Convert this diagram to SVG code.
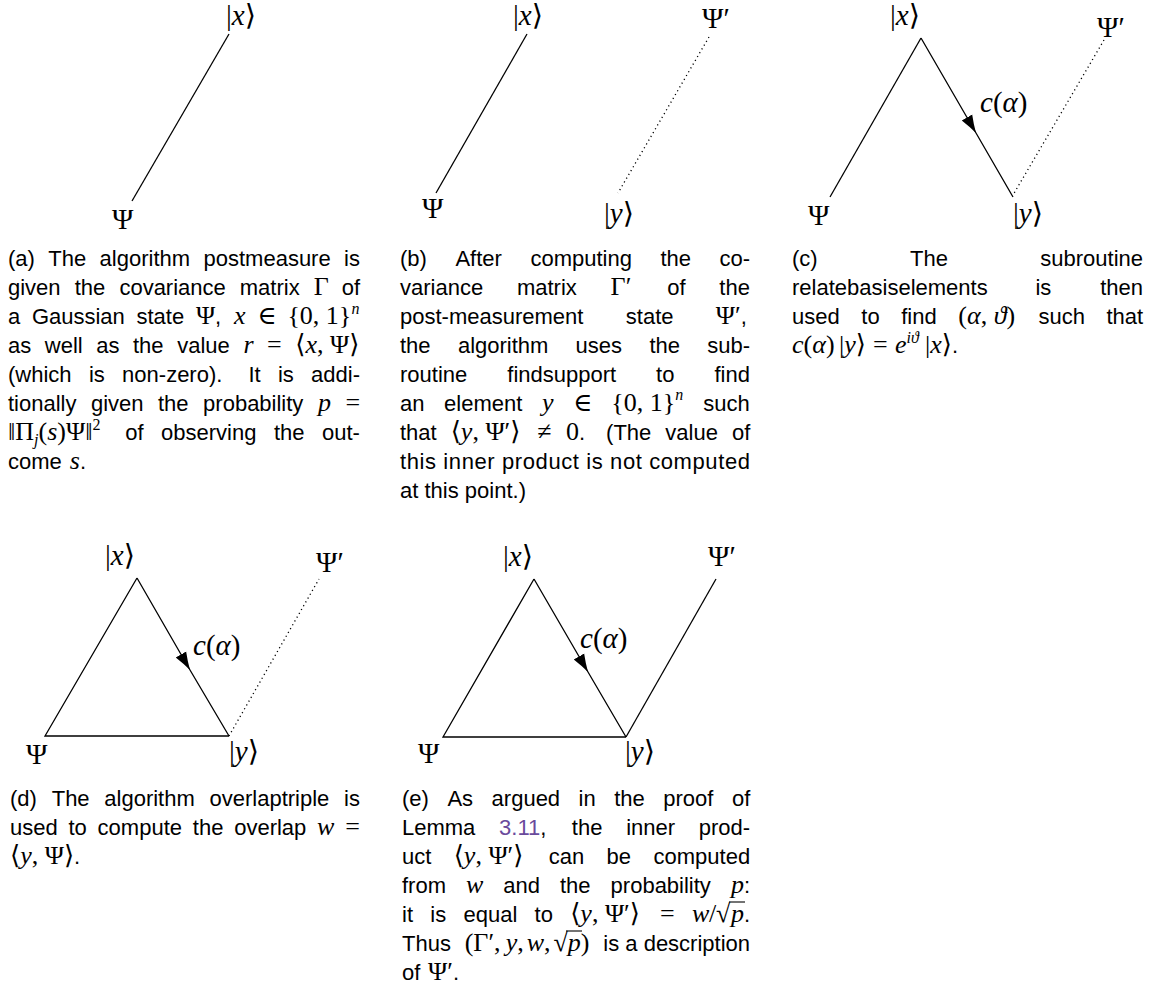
<svg xmlns="http://www.w3.org/2000/svg" width="1153" height="987" viewBox="0 0 1153 987">
<style>
.c{font-family:"Liberation Sans",Arial,sans-serif;font-size:22px;fill:#000}
.m{font-family:"Liberation Serif","DejaVu Serif",serif;font-size:26px;font-style:normal}
.mi{font-family:"Liberation Serif","DejaVu Serif",serif;font-size:26px;font-style:italic}
.sup{font-size:16px}
.lab{font-family:"Liberation Serif","DejaVu Serif",serif;font-size:29px;fill:#000}
.li{font-style:italic}
.ln{stroke:#000;stroke-width:1.3;fill:none}
.dot{stroke:#000;stroke-width:1.3;fill:none;stroke-dasharray:1.2 3.2}
.ref{fill:#6a4a9c}
.vin{stroke:#000;stroke-width:1.1}
</style>
<defs>
<marker id="arr" markerUnits="userSpaceOnUse" markerWidth="20" markerHeight="14" viewBox="0 0 20 14" refX="18" refY="7" orient="auto">
<path d="M18,7 Q9,4.6 0,1 L0,13 Q9,9.4 18,7 Z" fill="#000"/>
</marker>
</defs>
<rect width="1153" height="987" fill="#fff"/>

<g id="connectors">
<path class="ln" d="M229,34 L132,201"/>
<path class="ln" d="M527,34 L436,193"/>
<path class="dot" d="M709,37 L618,193"/>
<path class="ln" d="M921,38 L830,197"/>
<path class="ln" d="M921,38 L976,133 L1013,197" marker-mid="url(#arr)"/>
<path class="dot" d="M1104,40 L1013,195"/>
<path class="ln" d="M137,578 L45,736 L229,736"/>
<path class="ln" d="M137,578 L190,670 L229,736" marker-mid="url(#arr)"/>
<path class="dot" d="M229,736 L319,579"/>
<path class="ln" d="M534,579 L443,737 L626,737"/>
<path class="ln" d="M534,579 L588,672 L626,737" marker-mid="url(#arr)"/>
<path class="ln" d="M626,737 L716,579"/>
</g>

<g id="a-x"><text class="lab" x="226" y="25">|<tspan class="li">x</tspan>⟩</text></g>
<g id="a-psi"><text class="lab" x="112" y="229">Ψ</text></g>

<g id="b-x"><text class="lab" x="513" y="25">|<tspan class="li">x</tspan>⟩</text></g>
<g id="b-psi"><text class="lab" x="422" y="218">Ψ</text></g>
<g id="b-psip"><text class="lab" x="702" y="28">Ψ′</text></g>
<g id="b-y"><text class="lab" x="604" y="223">|<tspan class="li">y</tspan>⟩</text></g>

<g id="c-x"><text class="lab" x="890" y="25">|<tspan class="li">x</tspan>⟩</text></g>
<g id="c-psi"><text class="lab" x="808" y="225">Ψ</text></g>
<g id="c-y"><text class="lab" x="1013" y="223">|<tspan class="li">y</tspan>⟩</text></g>
<g id="c-psip"><text class="lab" x="1097" y="37">Ψ′</text></g>
<g id="c-c"><text class="lab" x="980" y="112"><tspan class="li">c</tspan>(<tspan class="li">α</tspan>)</text></g>

<g id="d-x"><text class="lab" x="105" y="565">|<tspan class="li">x</tspan>⟩</text></g>
<g id="d-psi"><text class="lab" x="26" y="764">Ψ</text></g>
<g id="d-y"><text class="lab" x="229" y="761">|<tspan class="li">y</tspan>⟩</text></g>
<g id="d-psip"><text class="lab" x="316" y="572">Ψ′</text></g>
<g id="d-c"><text class="lab" x="193" y="655"><tspan class="li">c</tspan>(<tspan class="li">α</tspan>)</text></g>

<g id="e-x"><text class="lab" x="503" y="566">|<tspan class="li">x</tspan>⟩</text></g>
<g id="e-psi"><text class="lab" x="418" y="763">Ψ</text></g>
<g id="e-y"><text class="lab" x="625" y="761">|<tspan class="li">y</tspan>⟩</text></g>
<g id="e-psip"><text class="lab" x="708" y="566">Ψ′</text></g>
<g id="e-c"><text class="lab" x="580" y="648"><tspan class="li">c</tspan>(<tspan class="li">α</tspan>)</text></g>

<g id="caption-a">
<text class="c" y="266"><tspan x="8">(a)</tspan><tspan x="48.3">The</tspan><tspan x="99.6">algorithm</tspan><tspan x="203.5">postmeasure</tspan><tspan x="344.1">is</tspan></text>
<text class="c" y="295"><tspan x="8">given</tspan><tspan x="74.7">the</tspan><tspan x="119.4">covariance</tspan><tspan x="239.8">matrix</tspan><tspan x="313.8" class="m">Γ</tspan><tspan x="341.7">of</tspan></text>
<text class="c" y="324"><tspan x="8">a</tspan><tspan x="31.9">Gaussian</tspan><tspan x="136.5">state</tspan><tspan x="195.9" class="m">Ψ</tspan><tspan>,</tspan><tspan x="234" class="mi">x</tspan><tspan x="257.2" class="m">∈</tspan><tspan x="287.4" class="m">{0, 1}</tspan><tspan x="351.4" y="314" class="mi sup">n</tspan></text>
<text class="c" y="353"><tspan x="8">as</tspan><tspan x="44.8">well</tspan><tspan x="96.2">as</tspan><tspan x="133">the</tspan><tspan x="177.2">value</tspan><tspan x="243.4" class="mi">r</tspan><tspan x="267.1" class="m">=</tspan><tspan x="295.3" class="m">⟨<tspan class="mi">x</tspan>, Ψ⟩</tspan></text>
<text class="c" y="382"><tspan x="8">(which</tspan><tspan x="88.9">is</tspan><tspan x="122.1">non-zero).</tspan><tspan x="248.4">It</tspan><tspan x="277.9">is</tspan><tspan x="311.1">addi-</tspan></text>
<text class="c" y="410.5"><tspan x="8">tionally</tspan><tspan x="90.9">given</tspan><tspan x="158">the</tspan><tspan x="203.1">probability</tspan><tspan x="317.9" class="mi">p</tspan><tspan x="345.4" class="m">=</tspan></text>
<text class="c" y="439.5"><tspan x="8" class="m">‖Π</tspan><tspan class="mi sup" y="445">j</tspan><tspan class="m" y="439.5">(</tspan><tspan class="mi">s</tspan><tspan class="m">)Ψ‖</tspan><tspan class="m sup" y="429.5">2</tspan><tspan x="125.2" y="439.5">of</tspan><tspan x="161">observing</tspan><tspan x="273.9">the</tspan><tspan x="322">out-</tspan></text>
<text class="c" y="468.5"><tspan x="8">come</tspan><tspan x="69.8" class="mi">s</tspan><tspan>.</tspan></text>
</g>

<g id="caption-b">
<text class="c" y="266"><tspan x="400">(b)</tspan><tspan x="455.4">After</tspan><tspan x="530.4">computing</tspan><tspan x="660.4">the</tspan><tspan x="719.5">co-</tspan></text>
<text class="c" y="295"><tspan x="400">variance</tspan><tspan x="516.9">matrix</tspan><tspan x="610.6" class="m">Γ′</tspan><tspan x="667.2">of</tspan><tspan x="719.3">the</tspan></text>
<text class="c" y="324"><tspan x="400">post-measurement</tspan><tspan x="625.8">state</tspan><tspan x="715.8" class="m">Ψ′</tspan><tspan>,</tspan></text>
<text class="c" y="353"><tspan x="400">the</tspan><tspan x="457.9">algorithm</tspan><tspan x="575.6">uses</tspan><tspan x="649.4">the</tspan><tspan x="707.2">sub-</tspan></text>
<text class="c" y="382"><tspan x="400">routine</tspan><tspan x="507.3">findsupport</tspan><tspan x="656.1">to</tspan><tspan x="714.4">find</tspan></text>
<text class="c" y="410.5"><tspan x="400">an</tspan><tspan x="444.1">element</tspan><tspan x="542" class="mi">y</tspan><tspan x="573.1" class="m">∈</tspan><tspan x="611.2" class="m">{0, 1}</tspan><tspan x="675.2" y="400" class="mi sup">n</tspan><tspan x="703.3" y="410.5">such</tspan></text>
<text class="c" y="439.5"><tspan x="400">that</tspan><tspan x="450.7" class="m">⟨<tspan class="mi">y</tspan>, Ψ′⟩</tspan><tspan x="537.3" class="m">≠</tspan><tspan x="566" class="m">0</tspan><tspan>.</tspan><tspan x="606.1">(The</tspan><tspan x="665.3">value</tspan><tspan x="731.9">of</tspan></text>
<text class="c" x="400" y="468.5" textLength="350" lengthAdjust="spacing">this inner product is not computed</text>
<text class="c" x="400" y="497.5">at this point.)</text>
</g>

<g id="caption-c">
<text class="c" y="266"><tspan x="792">(c)</tspan><tspan x="910.1">The</tspan><tspan x="1040.3">subroutine</tspan></text>
<text class="c" y="295"><tspan x="792">relatebasiselements</tspan><tspan x="1035.4">is</tspan><tspan x="1100.2">then</tspan></text>
<text class="c" y="324"><tspan x="792">used</tspan><tspan x="861.3">to</tspan><tspan x="901.2">find</tspan><tspan x="958.3" class="m">(<tspan class="mi">α</tspan>, <tspan class="mi">ϑ</tspan>)</tspan><tspan x="1038.4">such</tspan><tspan x="1106.5">that</tspan></text>
<text class="c" y="353"><tspan x="792" class="mi">c</tspan><tspan class="m">(</tspan><tspan class="mi">α</tspan><tspan class="m">)</tspan><tspan x="839" class="m">|</tspan><tspan class="mi">y</tspan><tspan class="m">⟩</tspan><tspan x="873" class="m">=</tspan><tspan x="895" class="mi">e</tspan><tspan class="mi sup" y="343">iϑ</tspan><tspan x="925" y="353" class="m">|</tspan><tspan class="mi">x</tspan><tspan class="m">⟩</tspan><tspan>.</tspan></text>
</g>

<g id="caption-d">
<text class="c" y="806"><tspan x="10">(d)</tspan><tspan x="51.7">The</tspan><tspan x="104.3">algorithm</tspan><tspan x="209.5">overlaptriple</tspan><tspan x="344.1">is</tspan></text>
<text class="c" y="835"><tspan x="10">used</tspan><tspan x="68.5">to</tspan><tspan x="97.6">compute</tspan><tspan x="192.8">the</tspan><tspan x="234.2">overlap</tspan><tspan x="317.1" class="mi">w</tspan><tspan x="345.2" class="m">=</tspan></text>
<text class="c" y="864"><tspan x="10" class="m">⟨<tspan class="mi">y</tspan>, Ψ⟩</tspan><tspan>.</tspan></text>
</g>

<g id="caption-e">
<text class="c" y="806"><tspan x="402">(e)</tspan><tspan x="447.4">As</tspan><tspan x="491.6">argued</tspan><tspan x="578.6">in</tspan><tspan x="614.2">the</tspan><tspan x="663.3">proof</tspan><tspan x="731.9">of</tspan></text>
<text class="c" y="835"><tspan x="402">Lemma</tspan><tspan x="499.1" class="ref">3.11</tspan><tspan>,</tspan><tspan x="571.8">the</tspan><tspan x="626.2">inner</tspan><tspan x="698.8">prod-</tspan></text>
<text class="c" y="864"><tspan x="402">uct</tspan><tspan x="453.7" class="m">⟨<tspan class="mi">y</tspan>, Ψ′⟩</tspan><tspan x="548.7">can</tspan><tspan x="606.6">be</tspan><tspan x="653.5">computed</tspan></text>
<text class="c" y="893"><tspan x="402">from</tspan><tspan x="466" class="mi">w</tspan><tspan x="503.3">and</tspan><tspan x="560">the</tspan><tspan x="610.6">probability</tspan><tspan x="730.9" class="mi">p</tspan><tspan>:</tspan></text>
<text class="c" y="922"><tspan x="402">it</tspan><tspan x="430.3">is</tspan><tspan x="463.5">equal</tspan><tspan x="534.6">to</tspan><tspan x="570.2" class="m">⟨<tspan class="mi">y</tspan>, Ψ′⟩</tspan><tspan x="660.1" class="m">=</tspan><tspan x="692" class="mi">w</tspan><tspan x="709" class="m">/</tspan><tspan x="716" class="m">√</tspan><tspan x="731" class="mi">p</tspan><tspan>.</tspan></text>
<line class="vin" x1="729" y1="902" x2="745" y2="902"/>
<text class="c" y="951"><tspan x="402">Thus</tspan><tspan x="464.7" class="m">(Γ′,</tspan><tspan x="505.7" class="mi">y</tspan><tspan class="m">,</tspan><tspan x="526.7" class="mi">w</tspan><tspan class="m">,</tspan><tspan x="553.5" class="m">√</tspan><tspan x="567.8" class="mi">p</tspan><tspan class="m">)</tspan><tspan x="603.3">is a description</tspan></text>
<line class="vin" x1="566" y1="931" x2="582" y2="931"/>
<text class="c" y="980"><tspan x="402">of</tspan><tspan x="428" class="m">Ψ′</tspan><tspan>.</tspan></text>
</g>
</svg>
